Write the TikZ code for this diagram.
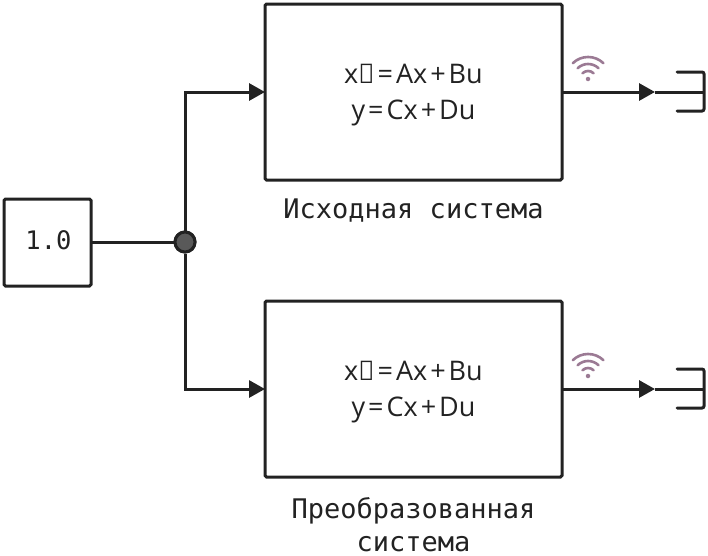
\documentclass[tikz,border=0pt]{standalone}
\usepackage{fontspec}
\setmonofont{DejaVu Sans Mono}
\newfontfamily\eqfont{Open Sans}
\usetikzlibrary{arrows.meta}
\definecolor{ink}{HTML}{222222}
\definecolor{wifi}{HTML}{9B7A94}
\tikzset{
  x=1pt,y=-1pt,
  wire/.style={draw=ink,line width=3pt},
  flow/.style={wire,-{Triangle[length=16pt,width=17pt]}},
  blockbox/.style={draw=ink,line width=3pt,rounded corners=1.5pt,fill=white,inner sep=0pt,outer sep=0pt,anchor=north west},
  eqn/.style={font=\eqfont\fontsize{27}{36}\selectfont,align=center,text=ink},
  lbl/.style={font=\ttfamily\fontsize{27}{33}\selectfont,align=center,text=ink},
  wifiarc/.style={draw=wifi,line width=2.6pt,line cap=round},
  wifidot/.style={fill=wifi,circle,inner sep=0pt,minimum size=4.5pt},
  term/.style={draw=ink,line width=3pt,rounded corners=2pt,line cap=round},
  junction/.style={circle,draw=ink,fill=black!65,line width=3pt,minimum size=20pt,inner sep=0pt},
}
\newcommand{\stateeq}{\.{x}\kern3pt=\kern3pt{}Ax\kern3pt+\kern3pt{}Bu\\y\kern3pt=\kern3pt{}Cx\kern3pt+\kern3pt{}Du}
\begin{document}
\begin{tikzpicture}
\useasboundingbox (0,0) rectangle (708,555);
% blocks
\node[blockbox,minimum width=87pt,minimum height=87pt] (src) at (4,199) {};
\node[font=\ttfamily\fontsize{25.5}{30}\selectfont,text=ink] (srcval) at (48.5,240.5) {1.0};
\node[blockbox,minimum width=297pt,minimum height=176pt] (sysA) at (265,4) {};
\node[blockbox,minimum width=297pt,minimum height=176pt] (sysB) at (265,301) {};
\node[eqn] (eqA) at (413.5,95.5) {\stateeq};
\node[eqn] (eqB) at (413.5,392.5) {\stateeq};
\node[lbl] (lblA) at (413.5,211) {Исходная система};
\node[lbl] (lblB) at (413.5,525) {Преобразованная\\система};
% junction and coordinates
\node[junction] (jn) at (185,242) {};
\coordinate (tipA) at (655,92);
\coordinate (tipB) at (655,389);
\coordinate (endA) at (704,92);
\coordinate (endB) at (704,389);
% connectors
\draw[wire] (src.east |- jn) -- (jn);
\draw[flow] (jn) |- (sysA.west |- tipA);
\draw[flow] (jn) |- (sysB.west |- tipB);
\draw[flow] (sysA.east |- tipA) -- (tipA);
\draw[flow] (sysB.east |- tipB) -- (tipB);
\draw[wire] (tipA) -- (endA);
\draw[wire] (tipB) -- (endB);
\node[junction] at (jn) {};
% terminators
\draw[term] (677,72) -- (704,72) -- (704,111) -- (677,111);
\draw[term] (677,369) -- (704,369) -- (704,408) -- (677,408);
% signal icons
\foreach \yy in {79,376}{
  \node[wifidot] at (588,\yy) {};
  \foreach \r in {8,15,22}{
    \draw[wifiarc] (588,\yy) ++(-\r*0.69,-\r*0.72) arc[start angle=-134,end angle=-46,radius=\r];
  }
}
\end{tikzpicture}
\end{document}
